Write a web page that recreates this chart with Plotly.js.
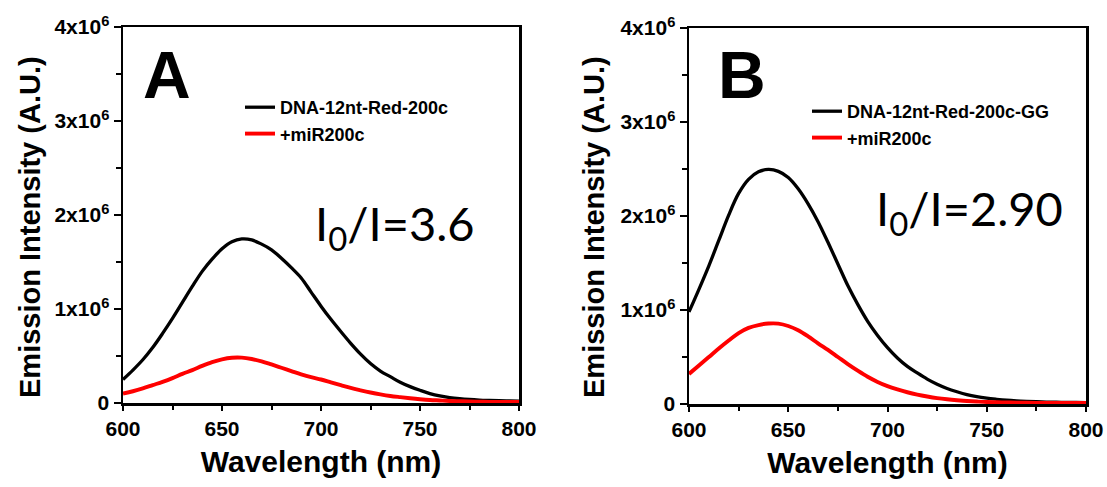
<!DOCTYPE html>
<html>
<head>
<meta charset="utf-8">
<script src="https://cdn.plot.ly/plotly-3.0.1.min.js"></script>
<style>
html,body{margin:0;padding:0;background:#fff;}
#chart{width:1107px;height:487px;}
</style>
</head>
<body>
<div id="chart"></div>
<script>
// ---- shared wavelength grid (nm) ----
const wavelength = [600, 605, 610, 615, 620, 625, 630, 635, 640, 645, 650, 655, 660, 665, 670, 675, 680, 685, 690, 695, 700,
                    705, 710, 715, 720, 725, 730, 735, 740, 745, 750, 755, 760, 765, 770, 775, 780, 785, 790, 795, 800];

// ---- Panel A intensities (units of 1e6 A.U.) ----
const intA_probe = [0.25, 0.35, 0.46, 0.59, 0.74, 0.90, 1.07, 1.24, 1.40, 1.53, 1.64, 1.715, 1.745, 1.735, 1.69, 1.63, 1.54, 1.44, 1.33, 1.18, 1.03,
                    0.89, 0.76, 0.635, 0.52, 0.42, 0.34, 0.28, 0.22, 0.174, 0.135, 0.10, 0.075, 0.058, 0.046, 0.037, 0.031, 0.027, 0.024, 0.022, 0.02];
const intA_mir   = [0.10, 0.125, 0.155, 0.19, 0.225, 0.265, 0.31, 0.35, 0.395, 0.435, 0.465, 0.482, 0.483, 0.468, 0.443, 0.41, 0.375, 0.34, 0.305, 0.275, 0.25,
                    0.22, 0.19, 0.16, 0.135, 0.112, 0.092, 0.075, 0.062, 0.05, 0.04, 0.032, 0.027, 0.022, 0.019, 0.016, 0.014, 0.012, 0.011, 0.01, 0.01];

// ---- Panel B intensities (units of 1e6 A.U.) ----
const intB_probe = [0.98, 1.22, 1.47, 1.74, 2.01, 2.24, 2.39, 2.47, 2.495, 2.475, 2.41, 2.29, 2.13, 1.94, 1.72, 1.49, 1.26, 1.06, 0.88, 0.73, 0.60,
                    0.49, 0.40, 0.33, 0.265, 0.21, 0.165, 0.13, 0.10, 0.078, 0.062, 0.05, 0.04, 0.033, 0.028, 0.024, 0.021, 0.019, 0.017, 0.016, 0.015];
const intB_mir   = [0.32, 0.41, 0.50, 0.59, 0.675, 0.755, 0.81, 0.84, 0.856, 0.855, 0.83, 0.785, 0.72, 0.645, 0.575, 0.50, 0.425, 0.355, 0.29, 0.235, 0.19,
                    0.155, 0.125, 0.10, 0.08, 0.063, 0.05, 0.04, 0.032, 0.026, 0.021, 0.018, 0.016, 0.014, 0.013, 0.012, 0.011, 0.0105, 0.01, 0.01, 0.01];
const unit = 1e6;

// ---- labels ----
const seriesNamesA = ["DNA-12nt-Red-200c", "+miR200c"];
const seriesNamesB = ["DNA-12nt-Red-200c-GG", "+miR200c"];
const xTickVals = [600, 650, 700, 750, 800];
const yTickVals = [0, 1e6, 2e6, 3e6, 4e6];
const yTickText = ["0", "1x10<sup>6</sup>", "2x10<sup>6</sup>", "3x10<sup>6</sup>", "4x10<sup>6</sup>"];
const xTitle = "Wavelength (nm)";
const yTitle = "Emission Intensity (A.U.)";
const ratioA = "I<sub>0</sub>/I=3.6";
const ratioB = "I<sub>0</sub>/I=2.90";

const W = 1107, H = 487;
const px = v => v / W;
const py = v => 1 - v / H;
const scale = arr => arr.map(v => v * unit);

const FONT = "Liberation Sans, Arial, sans-serif";

const traces = [
  {x: wavelength, y: scale(intA_probe), name: seriesNamesA[0], type: "scatter", mode: "lines",
   line: {color: "#000000", width: 3.3, shape: "spline", smoothing: 1}, xaxis: "x", yaxis: "y", legend: "legend"},
  {x: wavelength, y: scale(intA_mir), name: seriesNamesA[1], type: "scatter", mode: "lines",
   line: {color: "#ff0000", width: 3.9, shape: "spline", smoothing: 1}, xaxis: "x", yaxis: "y", legend: "legend"},
  {x: wavelength, y: scale(intB_probe), name: seriesNamesB[0], type: "scatter", mode: "lines",
   line: {color: "#000000", width: 3.3, shape: "spline", smoothing: 1}, xaxis: "x2", yaxis: "y2", legend: "legend2"},
  {x: wavelength, y: scale(intB_mir), name: seriesNamesB[1], type: "scatter", mode: "lines",
   line: {color: "#ff0000", width: 3.9, shape: "spline", smoothing: 1}, xaxis: "x2", yaxis: "y2", legend: "legend2"}
];

function xAxis(domain, anchor) {
  return {
    domain: domain, anchor: anchor, range: [600, 800],
    tickmode: "array", tickvals: xTickVals,
    ticks: "outside", ticklen: 5, tickwidth: 2, tickcolor: "#000",
    minor: {dtick: 25, tick0: 600, ticks: "outside", ticklen: 4, tickwidth: 2, tickcolor: "#000", showgrid: false},
    showline: true, linewidth: 2.5, linecolor: "#000", mirror: true,
    showgrid: false, zeroline: false,
    tickfont: {family: FONT, size: 21, color: "#000", weight: "bold"},
    title: {text: xTitle, font: {family: FONT, size: 30, color: "#000", weight: "bold"}, standoff: 13},
    automargin: false
  };
}
function yAxis(domain, anchor) {
  return {
    domain: domain, anchor: anchor, range: [0, 4e6],
    tickmode: "array", tickvals: yTickVals, ticktext: yTickText,
    ticks: "outside", ticklen: 7, tickwidth: 2, tickcolor: "#000",
    minor: {dtick: 0.5e6, tick0: 0, ticks: "outside", ticklen: 5, tickwidth: 2, tickcolor: "#000", showgrid: false},
    showline: true, linewidth: 2.5, linecolor: "#000", mirror: true,
    showgrid: false, zeroline: false,
    tickfont: {family: FONT, size: 21, color: "#000", weight: "bold"},
    automargin: false
  };
}

const legendCommon = {
  bgcolor: "rgba(0,0,0,0)", borderwidth: 0,
  font: {family: FONT, size: 18, color: "#000", weight: "bold"},
  xanchor: "left", yanchor: "top", tracegroupgap: 0, itemwidth: 30
};

const layout = {
  width: W, height: H,
  margin: {l: 0, r: 0, t: 0, b: 0},
  paper_bgcolor: "#fff", plot_bgcolor: "#fff",
  showlegend: true,
  xaxis: xAxis([px(123), px(519)], "y"),
  yaxis: yAxis([py(403), py(27)], "x"),
  xaxis2: xAxis([px(689), px(1086)], "y2"),
  yaxis2: yAxis([py(404), py(28)], "x2"),
  legend: Object.assign({}, legendCommon, {x: px(240), y: py(89)}),
  legend2: Object.assign({}, legendCommon, {x: px(807), y: py(93)}),
  annotations: [
    {text: "A", xref: "paper", yref: "paper", x: px(141), y: py(75), xanchor: "left", yanchor: "middle",
     showarrow: false, font: {family: FONT, size: 66, color: "#000", weight: "bold"}},
    {text: "B", xref: "paper", yref: "paper", x: px(716), y: py(75), xanchor: "left", yanchor: "middle",
     showarrow: false, font: {family: FONT, size: 66, color: "#000", weight: "bold"}},
    {text: ratioA, xref: "paper", yref: "paper", x: px(313), y: py(226), xanchor: "left", yanchor: "middle",
     showarrow: false, font: {family: "Lato, sans-serif", size: 47, color: "#000"}},
    {text: ratioB, xref: "paper", yref: "paper", x: px(874), y: py(211), xanchor: "left", yanchor: "middle",
     showarrow: false, font: {family: "Lato, sans-serif", size: 47, color: "#000"}},
    {text: yTitle, xref: "paper", yref: "paper", x: px(30), y: py(227), xanchor: "center", yanchor: "middle",
     textangle: -90, showarrow: false, font: {family: FONT, size: 29, color: "#000", weight: "bold"}},
    {text: yTitle, xref: "paper", yref: "paper", x: px(594), y: py(227), xanchor: "center", yanchor: "middle",
     textangle: -90, showarrow: false, font: {family: FONT, size: 29, color: "#000", weight: "bold"}}
  ]
};

Plotly.newPlot("chart", traces, layout, {displayModeBar: false, staticPlot: true});
</script>
</body>
</html>
